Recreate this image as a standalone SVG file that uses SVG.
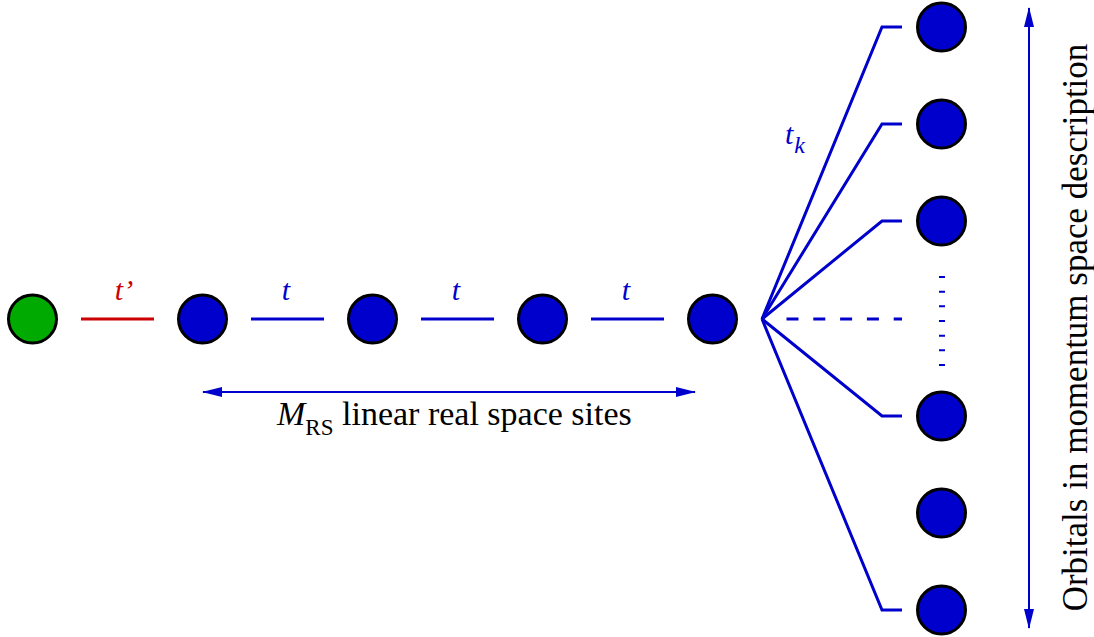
<svg xmlns="http://www.w3.org/2000/svg" width="1094" height="637" viewBox="0 0 1094 637">
<style>
.site{stroke:#000;stroke-width:3}
.blue{fill:#0000CC}
.green{fill:#00AA00}
.bond{stroke:#0000CC;stroke-width:3;fill:none}
.red{stroke:#CC0000}
.arr{stroke:#0000CC;stroke-width:2;fill:none}
.lbl{font-style:italic;font-size:30px;fill:#0000CC}
.cap{font-size:34px;fill:#000}
</style>
<defs>
<marker id="ah" markerUnits="userSpaceOnUse" markerWidth="20" markerHeight="10" refX="19" refY="5" orient="auto-start-reverse" viewBox="0 0 20 10">
<path d="M0,0 L20,5 L0,10 z" fill="#0000CC"/>
</marker>
</defs>
<rect width="1094" height="637" fill="#fff"/>
<g id="connectors">
<line class="bond red" x1="81" y1="319" x2="154" y2="319"/>
<line class="bond" x1="251" y1="319" x2="324" y2="319"/>
<line class="bond" x1="421" y1="319" x2="494" y2="319"/>
<line class="bond" x1="591" y1="319" x2="664" y2="319"/>
<polyline class="bond" points="762,319 882,27 902,27"/>
<polyline class="bond" points="762,319 882,124 902,124"/>
<polyline class="bond" points="762,319 882,221 902,221"/>
<polyline class="bond" points="762,319 882,416 902,416"/>
<polyline class="bond" points="762,319 882,610 902,610"/>
<line class="bond" x1="786.5" y1="319" x2="902" y2="319" stroke-dasharray="12 14.8"/>
<line x1="942" y1="276" x2="942" y2="367" stroke="#0000CC" stroke-width="6" stroke-dasharray="2 12.67"/>
<line class="arr" x1="203" y1="392" x2="695" y2="392" marker-start="url(#ah)" marker-end="url(#ah)"/>
<line class="arr" x1="1029" y1="8" x2="1029" y2="628" marker-start="url(#ah)" marker-end="url(#ah)"/>
</g>
<g id="site0"><circle class="site green" cx="32.5" cy="319" r="24"/></g>
<g id="site1"><circle class="site blue" cx="202.5" cy="319" r="24"/></g>
<g id="site2"><circle class="site blue" cx="372.5" cy="319" r="24"/></g>
<g id="site3"><circle class="site blue" cx="542.5" cy="319" r="24"/></g>
<g id="site4"><circle class="site blue" cx="712.5" cy="319" r="24"/></g>
<g id="k1"><circle class="site blue" cx="941.5" cy="27" r="24"/></g>
<g id="k2"><circle class="site blue" cx="941.5" cy="124" r="24"/></g>
<g id="k3"><circle class="site blue" cx="941.5" cy="221" r="24"/></g>
<g id="k4"><circle class="site blue" cx="941.5" cy="416" r="24"/></g>
<g id="k5"><circle class="site blue" cx="941.5" cy="513" r="24"/></g>
<g id="k6"><circle class="site blue" cx="941.5" cy="610" r="24"/></g>
<g id="labels" font-family="Liberation Serif, DejaVu Serif, serif">
<text class="lbl" x="124" y="300" text-anchor="middle" style="fill:#CC0000">t’</text>
<text class="lbl" x="286" y="300" text-anchor="middle">t</text>
<text class="lbl" x="456" y="300" text-anchor="middle">t</text>
<text class="lbl" x="626" y="300" text-anchor="middle">t</text>
<text class="lbl" x="785" y="144">t<tspan font-size="24" dx="1" dy="9">k</tspan></text>
<text class="cap" x="277" y="425"><tspan font-style="italic">M</tspan><tspan font-size="23" dy="10">RS</tspan></text>
<text class="cap" x="342" y="425">linear real space sites</text>
<text class="cap" style="font-size:35px" transform="translate(1087,327.5) rotate(-90)" text-anchor="middle">Orbitals in momentum space description</text>
</g>
</svg>
